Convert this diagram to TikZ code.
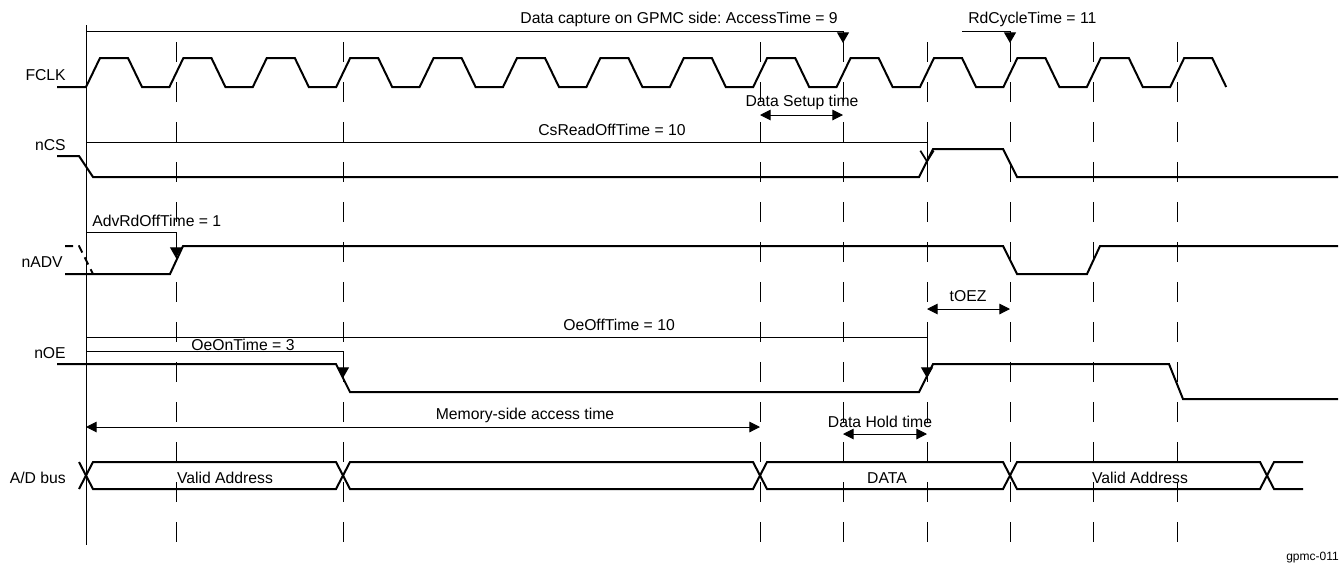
\documentclass[tikz,border=0pt]{standalone}
\usepackage{fontspec}
\setmainfont{Liberation Sans}
\usetikzlibrary{arrows.meta, positioning, calc}
\frenchspacing
\tikzstyle{sig}     = [line width=1.5pt]
\tikzstyle{annot}   = [line width=0.75pt]
\tikzstyle{gridline}= [line width=0.75pt, dash pattern=on 15pt off 15pt]
\tikzstyle{dimarr}  = [{Triangle[length=8pt,width=8pt]}-{Triangle[length=8pt,width=8pt]},
                       line width=0.75pt]
\tikzstyle{evtarr}  = [-{Triangle[length=8pt,width=9pt]}, line width=0.75pt]
\tikzstyle{signame} = [anchor=base east, inner sep=0pt,
                       font=\fontsize{11.8}{14}\selectfont]
\tikzstyle{lbl}     = [anchor=base, inner sep=0pt,
                       font=\fontsize{11.8}{14}\selectfont]

\begin{document}
\begin{tikzpicture}[x=0.75pt, y=-0.75pt]
  \useasboundingbox (0,0) rectangle (1344,562);

  % time grid
  \draw[annot] (86,25) -- (86,545);
  \foreach \k in {1,3,8,9,10,11,12,13}
    \draw[gridline] ({93+83.4*\k},42) -- ({93+83.4*\k},542);

  % signal names
  \node[signame] (fclk) at (66,80)  {FCLK};
  \node[signame] (ncs)  at (66,150) {nCS};
  \node[signame] (nadv) at (63,267) {nADV};
  \node[signame] (noe)  at (66,358) {nOE};
  \node[signame] (adb)  at (66,483) {A/D bus};

  % FCLK
  \draw[sig] (57,87) \foreach \k in {0,...,13} {
      -- ({86+83.4*\k},87) -- ({100+83.4*\k},58)
      -- ({128+83.4*\k},58) -- ({142+83.4*\k},87)};

  % nCS
  \draw[sig] (57,156) -- (79,156) -- (93,177) -- (919,177) -- (933,149)
             -- (1003,149) -- (1017,177) -- (1338,177);

  % nADV
  \draw[sig, dash pattern=on 6pt off 4pt] (65,246) -- (79,246) -- (93,274);
  \draw[sig] (65,274) -- (170,274) -- (183,246) -- (1003,246) -- (1017,274)
             -- (1087,274) -- (1100,246) -- (1338,246);

  % nOE
  \draw[sig] (57,364) -- (336,364) -- (350,392) -- (919,392) -- (933,364)
             -- (1169,364) -- (1183,399) -- (1338,399);

  % A/D bus
  \draw[sig] (79,489) -- (93,462) -- (336,462) -- (350,489) -- (753,489)
             -- (767,462) -- (1003,462) -- (1017,489) -- (1260,489)
             -- (1274,462) -- (1303,462);
  \draw[sig] (79,462) -- (93,489) -- (336,489) -- (350,462) -- (753,462)
             -- (767,489) -- (1003,489) -- (1017,462) -- (1260,462)
             -- (1274,489) -- (1303,489);
  \node[lbl] (va1)  at (225,483)  {Valid Address};
  \node[lbl] (data) at (887,483)  {DATA};
  \node[lbl] (va2)  at (1140,483) {Valid Address};

  % timing parameters
  \coordinate (acc0) at (86,31);   \coordinate (acc)  at (843,43);
  \coordinate (rdc0) at (962,31);  \coordinate (rdc)  at (1010,43);
  \coordinate (cs0)  at (86,142);  \coordinate (cs)   at (927,163);
  \coordinate (adv0) at (86,232);  \coordinate (adv)  at (176,258);
  \coordinate (oef0) at (86,337);  \coordinate (oef)  at (927,378);
  \coordinate (oen0) at (86,351);  \coordinate (oen)  at (343,378);

  \draw[evtarr] (acc0) -| (acc);
  \draw[evtarr] (rdc0) -| (rdc);
  \draw[annot, -{Straight Barb[length=8pt,width=10pt,line width=1.3pt]}] (cs0) -| (cs);
  \draw[evtarr] (adv0) -| (adv);
  \draw[evtarr] (oef0) -| (oef);
  \draw[evtarr] (oen0) -| (oen);

  \node[lbl, anchor=base east] (acclbl) at (838,23)  {Data capture on GPMC side: AccessTime = 9};
  \node[lbl, anchor=base west] (rdclbl) at (968,23)  {RdCycleTime = 11};
  \node[lbl] (cslbl)  at (612,135) {CsReadOffTime = 10};
  \node[lbl, anchor=base west] (advlbl) at (92,226)  {AdvRdOffTime = 1};
  \node[lbl] (oeflbl) at (619,330) {OeOffTime = 10};
  \node[lbl] (oenlbl) at (243,350) {OeOnTime = 3};

  % intervals
  \coordinate (su1) at (760,115);  \coordinate (su2) at (843,115);
  \coordinate (tz1) at (927,309);  \coordinate (tz2) at (1010,309);
  \coordinate (ma1) at (86,427);   \coordinate (ma2) at (760,427);
  \coordinate (dh1) at (843,434);  \coordinate (dh2) at (927,434);

  \draw[dimarr] (su1) -- (su2);
  \draw[dimarr] (tz1) -- (tz2);
  \draw[dimarr] (ma1) -- (ma2);
  \draw[dimarr] (dh1) -- (dh2);

  \node[lbl] (sulbl) at (802,106) {Data Setup time};
  \node[lbl] (tzlbl) at (968,301) {tOEZ};
  \node[lbl] (malbl) at (525,419) {Memory-side access time};
  \node[lbl] (dhlbl) at (880,427) {Data Hold time};

  \node[anchor=base east, inner sep=0pt, font=\fontsize{9}{10}\selectfont]
    (figid) at (1339,560) {gpmc-011};
\end{tikzpicture}
\end{document}
